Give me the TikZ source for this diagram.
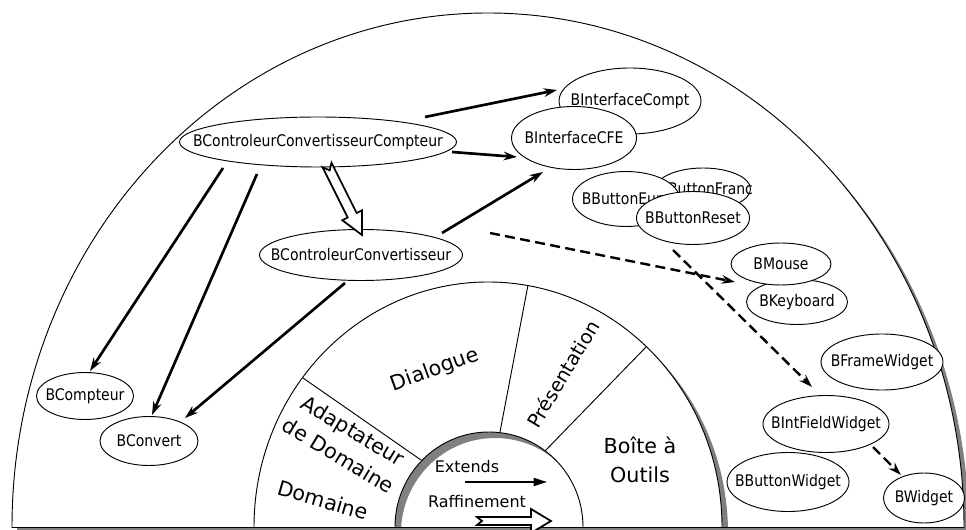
\documentclass[tikz,border=0pt]{standalone}
\usepackage{fontspec}
\setmainfont{DejaVu Sans}
\newfontfamily\nodefont{DejaVu Sans}[FakeStretch=0.875]
\usetikzlibrary{calc,arrows.meta,shapes.geometric}
\definecolor{shadowgray}{RGB}{128,128,128}
\tikzset{
  cls/.style={ellipse, draw=black, line width=0.7pt, fill=white, inner sep=0pt, font=\nodefont\fontsize{12}{13}\selectfont},
  region/.style={font=\fontsize{15.5}{21.75}\selectfont, align=center, inner sep=0pt},
  legend/.style={font=\fontsize{12}{14}\selectfont, inner sep=0pt},
  solidarr/.style={line width=2pt, -{Stealth[length=10pt,width=6.5pt]}},
  dasharr/.style={line width=1.8pt, dash pattern=on 7.5pt off 4pt, -{Stealth[length=10pt,width=6.5pt]}},
  hollow/.style={line width=1.3pt, fill=white, line join=miter},
  thinline/.style={line width=0.7pt},
}
\newcommand\nbox[1]{\makebox[0pt]{#1}}
\newcommand\hollowarrow[6]{% start, tip, half shaft, half head, head length, notch
  \coordinate (ha-c) at ($(#2)!#5!(#1)$);
  \draw[hollow] ($(#1)!#3!90:(#2)$) -- ($(ha-c)!#3!90:(#2)$) -- ($(ha-c)!#4!90:(#2)$) -- (#2)
     -- ($(ha-c)!#4!-90:(#2)$) -- ($(ha-c)!#3!-90:(#2)$) -- ($(#1)!#3!-90:(#2)$) -- ($(#1)!#6!(#2)$) -- cycle;
}
\begin{document}
\begin{tikzpicture}[x=0.75pt,y=-0.75pt]
\useasboundingbox (0,0) rectangle (966,530);

% outer half ellipse with shadow
\begin{scope}
  \clip (-10,-10) rectangle (980,532);
  \fill[shadowgray] (493,532) ellipse [x radius=476, y radius=514];
\end{scope}
\begin{scope}
  \clip (-10,-10) rectangle (980,527);
  \filldraw[fill=white, thinline] (488,527) ellipse [x radius=476, y radius=514];
\end{scope}

% middle ring with shadow
\begin{scope}
  \clip (-10,-10) rectangle (980,533);
  \fill[shadowgray, even odd rule] (494,533) ellipse [x radius=234, y radius=245]
     (495,533) ellipse [x radius=94, y radius=95];
\end{scope}
\begin{scope}
  \clip (-10,-10) rectangle (980,527);
  \filldraw[fill=white, even odd rule, thinline] (488,527) ellipse [x radius=234, y radius=245]
     (489,527) ellipse [x radius=94, y radius=95];
\end{scope}
\draw[thinline] (12,527) -- (964,527);

% dividers
\draw[thinline] (303,378) -- (421,460);
\draw[thinline] (528,285) -- (500,432);
\draw[thinline] (647,346) -- (545,451);

% region labels
\node[region, rotate=20] (dialogue) at (435,370) {Dialogue};
\node[region, font=\fontsize{14.5}{16}\selectfont, rotate=59] (presentation) at (563,374) {Présentation};
\node[region] (boite) at (640,460) {Boîte à\\Outils};
\node[region, rotate=-31] (adaptateur) at (346,443) {Adaptateur\\de Domaine};
\node[region, rotate=-16] (domaine) at (323,500) {Domaine};

% legend
\node[legend] (extends) at (467,467) {Extends};
\coordinate (ext-s) at (465,482);
\coordinate (ext-e) at (547,482);
\draw[line width=1.3pt, -{Triangle[length=10pt,width=6pt]}] (ext-s) -- (ext-e);
\node[legend] (raff) at (477,502) {Raffinement};
\coordinate (raf-s) at (477,521);
\coordinate (raf-e) at (551,521);
\hollowarrow{raf-s}{raf-e}{3pt}{9pt}{15pt}{3.75pt}

% class nodes
\node[cls, minimum width=207.75pt, minimum height=37.5pt] (bccc) at (318,142) {\nbox{BControleurConvertisseurCompteur}};
\node[cls, minimum width=106.5pt, minimum height=49.5pt] (bic) at (630,101) {\nbox{BInterfaceCompt}};
\node[cls, minimum width=93.75pt, minimum height=47.25pt] (cfe) at (574,138) {\nbox{BInterfaceCFE}};
\node[cls, minimum width=71.25pt, minimum height=31.5pt] (bfranc) at (703,189) {\raisebox{-6pt}{\nbox{\hspace{4pt}BButtonFranc}}};
\node[cls, minimum width=80.25pt, minimum height=41.25pt] (beuro) at (626,199) {\nbox{BButtonEuro}};
\node[cls, minimum width=84.75pt, minimum height=39.75pt] (breset) at (693,218) {\nbox{BButtonReset}};
\node[cls, minimum width=152.25pt, minimum height=38.25pt] (bcc) at (361,255) {\nbox{BControleurConvertisseur}};
\node[cls, minimum width=75.75pt, minimum height=33.75pt] (bkey) at (797,302) {\nbox{BKeyboard}};
\node[cls, minimum width=75pt, minimum height=31.5pt] (bmouse) at (781,264) {\nbox{BMouse}};
\node[cls, minimum width=91.5pt, minimum height=42pt] (bframe) at (882,362) {\nbox{BFrameWidget}};
\node[cls, minimum width=94.5pt, minimum height=42.75pt] (bifw) at (826,424) {\nbox{BIntFieldWidget}};
\node[cls, minimum width=91.5pt, minimum height=44.25pt] (bbw) at (788,482) {\nbox{BButtonWidget}};
\node[cls, minimum width=60.75pt, minimum height=37.5pt] (bwidget) at (924,498) {\nbox{BWidget}};
\node[cls, minimum width=72.75pt, minimum height=35.25pt] (bcompteur) at (85,396) {\nbox{BCompteur}};
\node[cls, minimum width=73.5pt, minimum height=36.75pt] (bconvert) at (149,441) {\nbox{BConvert}};

% solid arrows
\draw[solidarr] ($(bccc)+(107,-25)$) -- ($(bic)+(-73,-11)$);
\draw[solidarr] ($(bccc)+(134,10)$) -- ($(cfe)+(-57,19)$);
\draw[solidarr] ($(bcc)+(81,-22)$) -- ($(cfe)+(-31,34)$);
\draw[solidarr] ($(bccc)+(-95,26)$) -- ($(bcompteur)+(5,-25)$);
\draw[solidarr] ($(bccc)+(-61,32)$) -- ($(bconvert)+(3,-26)$);
\draw[solidarr] ($(bcc)+(-16,28)$) -- ($(bconvert)+(36,-23)$);

% refinement arrow
\coordinate (rf-s) at ($(bccc)+(9,23)$);
\coordinate (rf-e) at ($(bcc)+(1,-20)$);
\hollowarrow{rf-s}{rf-e}{3.75pt}{8.25pt}{16.5pt}{4.5pt}

% dashed arrows
\coordinate (dstart) at (490,233);
\draw[dasharr] (dstart) -- ($(bkey)+(-62,-20)$);
\draw[dasharr] ($(breset)+(-20,32)$) -- ($(bifw)+(-14,-37)$);
\draw[dasharr] ($(bifw)+(47,23)$) -- ($(bwidget)+(-23,-23)$);
\end{tikzpicture}
\end{document}
